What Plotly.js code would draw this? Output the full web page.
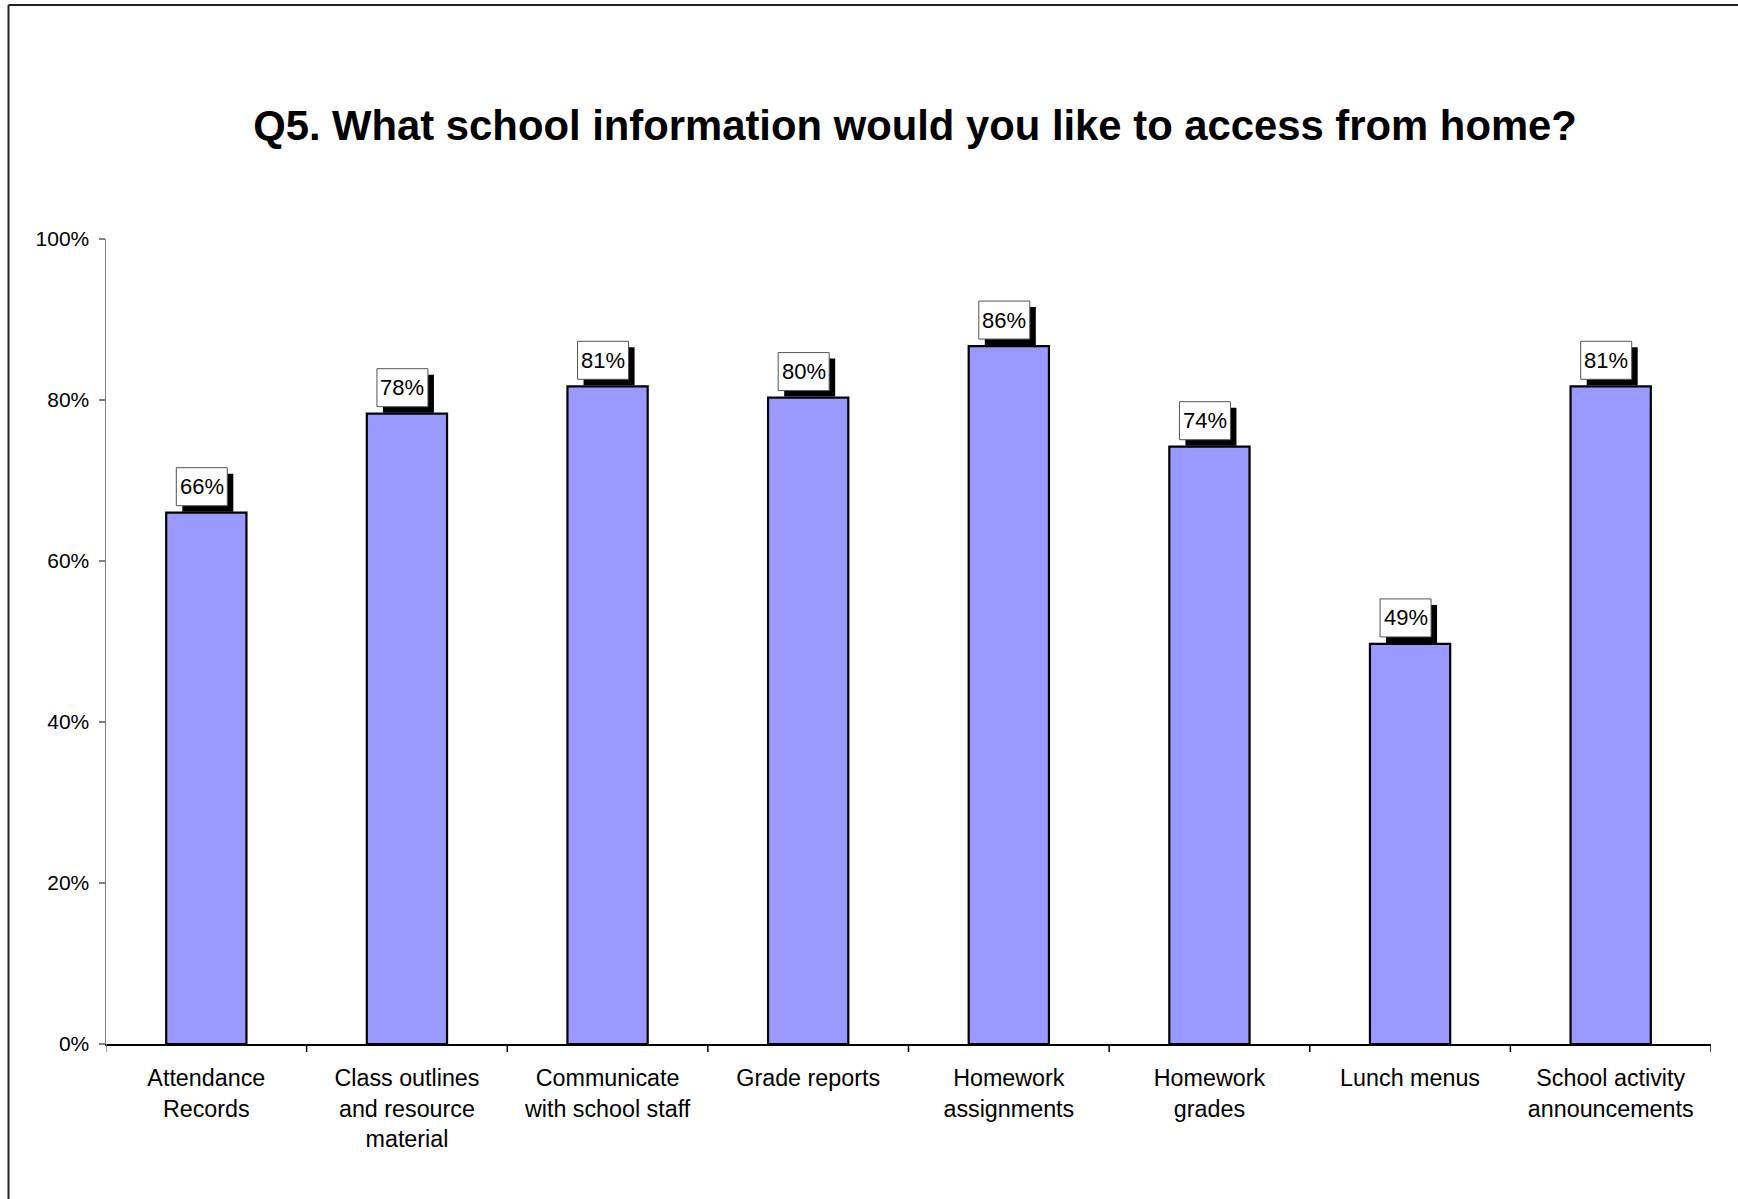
<!DOCTYPE html>
<html>
<head>
<meta charset="utf-8">
<script src="https://cdn.plot.ly/plotly-3.0.1.min.js"></script>
<style>
html,body{margin:0;padding:0;background:#fff;}
#chart{width:1738px;height:1199px;}
</style>
</head>
<body>
<div id="chart"></div>
<script>
// ---- data ----
const categories = [
  "Attendance<br>Records",
  "Class outlines<br>and resource<br>material",
  "Communicate<br>with school staff",
  "Grade reports",
  "Homework<br>assignments",
  "Homework<br>grades",
  "Lunch menus",
  "School activity<br>announcements"
];
const values = [66.0, 78.3, 81.7, 80.3, 86.7, 74.2, 49.7, 81.7];
const valueLabels = ["66%", "78%", "81%", "80%", "86%", "74%", "49%", "81%"];
const yTickVals = [0, 20, 40, 60, 80, 100];
const yTickText = ["0%", "20%", "40%", "60%", "80%", "100%"];
const titleText = "Q5. What school information would you like to access from home?";

// ---- layout geometry ----
const W = 1738, H = 1199, L = 106, R = 27, T = 239, B = 155;
const pw = W - L - R, ph = H - T - B;
const px2x = px => (px - L) / pw;
const py2y = py => (H - B - py) / ph;
const FONT = "Liberation Sans, Arial, sans-serif";

const shapes = [];
// outer chart border (left and top edges visible)
shapes.push({type: "line", xref: "paper", yref: "paper",
  x0: px2x(8.5), x1: px2x(8.5), y0: py2y(5), y1: py2y(1215),
  line: {color: "#222", width: 2}});
shapes.push({type: "line", xref: "paper", yref: "paper",
  x0: px2x(8.5), x1: px2x(1760), y0: py2y(5), y1: py2y(5),
  line: {color: "#222", width: 2}});

const annotations = [];
values.forEach((v, i) => {
  // shadow box
  shapes.push({type: "rect", layer: "above", xref: "x", yref: "y",
    xsizemode: "pixel", ysizemode: "pixel", xanchor: i, yanchor: v,
    x0: -24, x1: 27, y0: 1, y1: 39,
    fillcolor: "#000", line: {width: 0}});
  // label box
  shapes.push({type: "rect", layer: "above", xref: "x", yref: "y",
    xsizemode: "pixel", ysizemode: "pixel", xanchor: i, yanchor: v,
    x0: -30, x1: 21, y0: 7, y1: 45,
    fillcolor: "#fff", line: {color: "#555", width: 1}});
  annotations.push({x: i, y: v, xref: "x", yref: "y", text: valueLabels[i],
    showarrow: false, xanchor: "center", yanchor: "middle",
    xshift: -4.5, yshift: 26,
    font: {family: FONT, size: 22, color: "#000"}});
});

const trace = {
  type: "bar",
  x: categories.map((c, i) => i),
  y: values,
  marker: {color: "#9999FF", line: {color: "#000", width: 2.2}},
  hoverinfo: "skip"
};

const layout = {
  width: W, height: H,
  margin: {l: L, r: R, t: T, b: B, pad: 0},
  paper_bgcolor: "#fff", plot_bgcolor: "#fff",
  showlegend: false,
  bargap: 0.6,
  font: {family: FONT, color: "#000"},
  title: {text: "<b>" + titleText + "</b>",
    font: {family: FONT, size: 41.8, color: "#000"},
    xref: "container", yref: "container",
    x: 915 / W, y: 1 - 125 / H, xanchor: "center", yanchor: "middle"},
  xaxis: {
    type: "linear",
    range: [-0.5, 7.5],
    tickmode: "array",
    tickvals: categories.map((c, i) => i),
    ticktext: categories,
    showline: true, linecolor: "#000", linewidth: 1.5,
    ticks: "", showgrid: false, zeroline: false,
    ticklabelstandoff: 13,
    tickfont: {family: FONT, size: 23.3, color: "#000"},
    fixedrange: true
  },
  yaxis: {
    range: [0, 100],
    tickmode: "array", tickvals: yTickVals, ticktext: yTickText,
    showline: true, linecolor: "#808080", linewidth: 1.5,
    ticks: "outside", ticklen: 6, tickcolor: "#808080", tickwidth: 1.5,
    showgrid: false, zeroline: false,
    ticklabelstandoff: 5,
    tickfont: {family: FONT, size: 21, color: "#000"},
    fixedrange: true
  },
  shapes: shapes,
  annotations: annotations
};

// x-axis boundary tick marks (between categories, pointing down)
for (let k = 0; k <= categories.length; k++) {
  layout.shapes.push({type: "line", xref: "x", yref: "paper",
    x0: k - 0.5, x1: k - 0.5, y0: 0, y1: -8 / ph,
    line: {color: k === 0 ? "#808080" : "#000", width: 1.5}});
}

Plotly.newPlot("chart", [trace], layout, {staticPlot: true, displayModeBar: false});
</script>
</body>
</html>
